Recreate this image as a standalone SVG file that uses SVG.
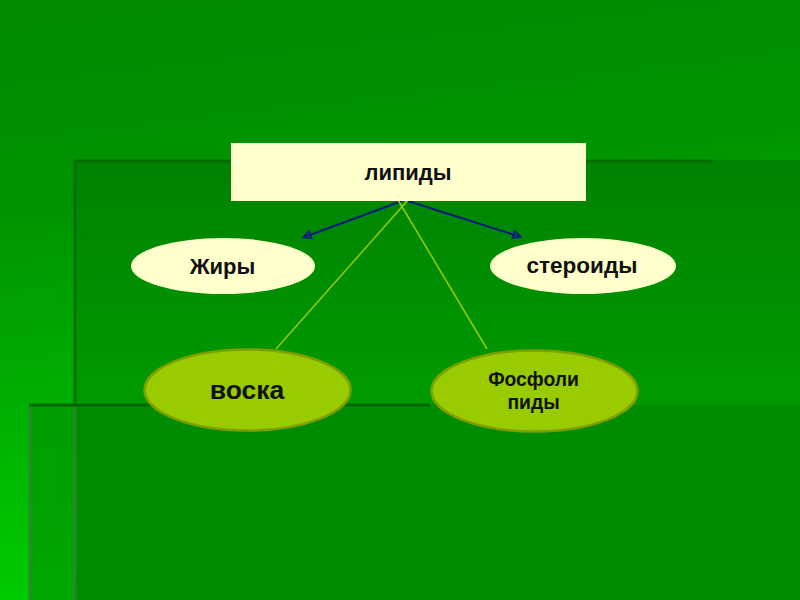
<svg xmlns="http://www.w3.org/2000/svg" width="800" height="600" viewBox="0 0 800 600">
<defs>
<linearGradient id="bg" x1="0" y1="0" x2="0.15" y2="1">
<stop offset="0" stop-color="#008a00"/>
<stop offset="0.35" stop-color="#009400"/>
<stop offset="1" stop-color="#00cc00"/>
</linearGradient>
<linearGradient id="ga" x1="0" y1="0" x2="0" y2="1">
<stop offset="0" stop-color="#008200"/>
<stop offset="0.55" stop-color="#009a00"/>
<stop offset="1" stop-color="#00a000"/>
</linearGradient>
<linearGradient id="gb" x1="0" y1="0" x2="0" y2="1">
<stop offset="0" stop-color="#009c00"/>
<stop offset="1" stop-color="#00a800"/>
</linearGradient>
<marker id="arr" viewBox="0 0 10 10" refX="9" refY="5" markerWidth="10" markerHeight="10" markerUnits="userSpaceOnUse" orient="auto">
<path d="M1,1 L9,5 L1,9 Z" fill="none" stroke="#0a1a80" stroke-width="1.6"/>
</marker>
</defs>
<style>
.lt{fill:#ffffcc}
.gr{fill:#99cc00;stroke:#7f9f00;stroke-width:2.5}
.t{font-family:"Liberation Sans",Arial,sans-serif;font-weight:bold;fill:#111;text-anchor:middle}
.blue{stroke:#0a1a80;stroke-width:2;fill:none}
.yg{stroke:#99cc00;stroke-width:1.5;fill:none}
</style>
<g id="background">
<rect x="0" y="0" width="800" height="600" fill="url(#bg)"/>
<rect x="75" y="160" width="725" height="440" fill="url(#ga)"/>
<rect x="30" y="405" width="45" height="195" fill="url(#gb)"/>
<rect x="75" y="405" width="725" height="195" fill="#008c00"/>
<line x1="75" y1="161" x2="712" y2="161" stroke="#006c00" stroke-width="3"/>
<line x1="75" y1="160" x2="75" y2="405" stroke="#0b6f0b" stroke-width="3"/>
<line x1="75" y1="405" x2="75" y2="600" stroke="#2a842a" stroke-width="3"/>
<line x1="30" y1="405" x2="30" y2="600" stroke="#2a8a2a" stroke-width="3"/>
<line x1="29" y1="405" x2="430" y2="405" stroke="#006600" stroke-width="3"/>
</g>
<g id="connectors">
<line class="blue" x1="402" y1="201" x2="303" y2="237.5" marker-end="url(#arr)"/>
<line class="blue" x1="408" y1="201" x2="521" y2="237" marker-end="url(#arr)"/>
<line class="yg" x1="408" y1="200" x2="276" y2="349"/>
<line class="yg" x1="398" y1="200" x2="487" y2="349"/>
</g>
<g id="node-lipidy">
<rect class="lt" x="231" y="143" width="355" height="58"/>
<text class="t" x="408" y="180" font-size="22">липиды</text>
</g>
<g id="node-zhiry">
<ellipse class="lt" cx="223" cy="266" rx="92" ry="28"/>
<text class="t" x="222.5" y="274" font-size="22">Жиры</text>
</g>
<g id="node-steroidy">
<ellipse class="lt" cx="583" cy="266" rx="93" ry="28"/>
<text class="t" x="582" y="273" font-size="22.5">стероиды</text>
</g>
<g id="node-voska">
<ellipse class="gr" cx="247.5" cy="390" rx="103" ry="40.5"/>
<text class="t" x="247" y="399" font-size="26.5">воска</text>
</g>
<g id="node-fosfolipidy">
<ellipse class="gr" cx="534.5" cy="391" rx="103" ry="40.5"/>
<text class="t" x="533.5" y="386" font-size="19.3">Фосфоли</text>
<text class="t" x="533.5" y="409" font-size="19.3">пиды</text>
</g>
</svg>
